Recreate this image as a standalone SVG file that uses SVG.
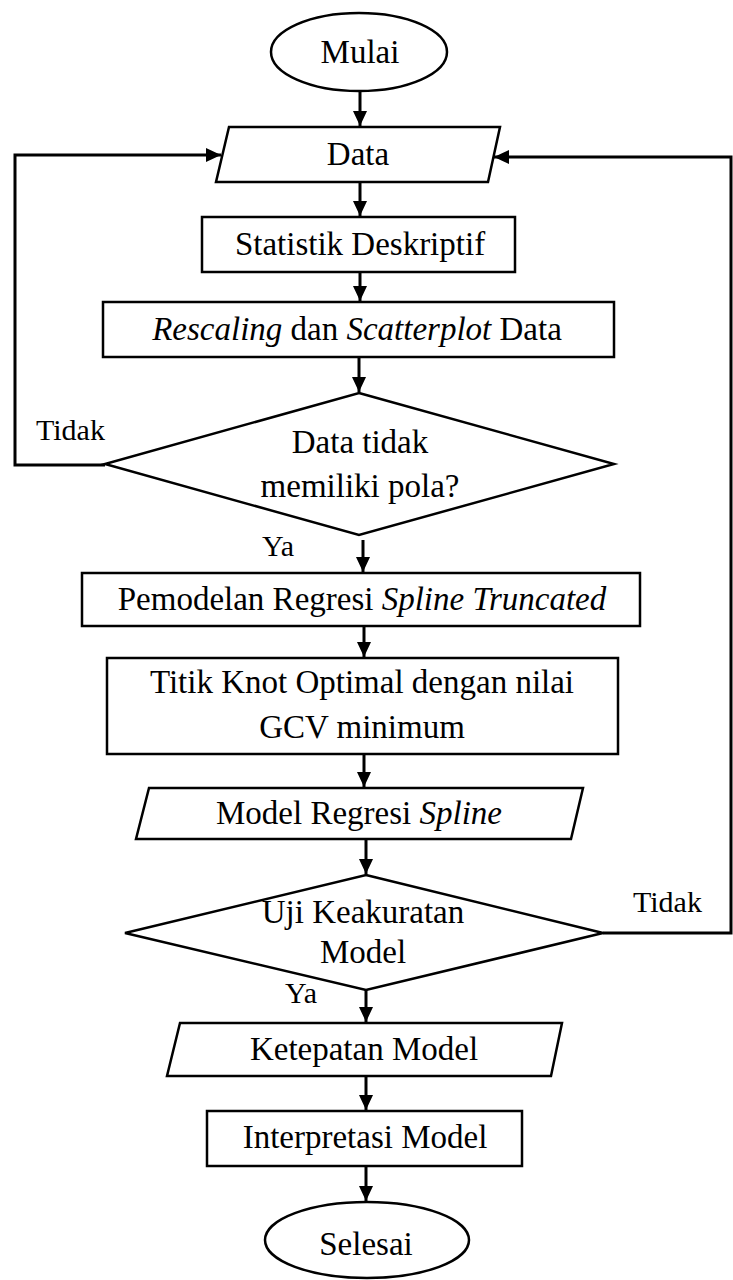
<svg xmlns="http://www.w3.org/2000/svg" width="733" height="1280" viewBox="0 0 733 1280">
<style>
.s{fill:#fff;stroke:#000;stroke-width:2.5}
.t{font-family:"Liberation Serif","Times New Roman",serif;font-size:33px;fill:#000;text-anchor:middle}
.l{font-family:"Liberation Serif","Times New Roman",serif;font-size:30px;fill:#000}
.c{fill:none;stroke:#000;stroke-width:3}
.i{font-style:italic}
</style>
<defs>
<marker id="ah" markerUnits="userSpaceOnUse" markerWidth="16" markerHeight="14" refX="15" refY="7" orient="auto">
<path d="M0,0 L15,7 L0,14 Z" fill="#000"/>
</marker>
</defs>
<rect width="733" height="1280" fill="#fff"/>
<g id="connectors">
<line class="c" x1="360" y1="91" x2="360" y2="126" marker-end="url(#ah)"/>
<line class="c" x1="360" y1="182" x2="360" y2="216" marker-end="url(#ah)"/>
<line class="c" x1="360" y1="272" x2="360" y2="301" marker-end="url(#ah)"/>
<line class="c" x1="359" y1="357" x2="359" y2="392" marker-end="url(#ah)"/>
<line class="c" x1="363" y1="540" x2="363" y2="572" marker-end="url(#ah)"/>
<line class="c" x1="364" y1="626" x2="364" y2="657" marker-end="url(#ah)"/>
<line class="c" x1="364" y1="754" x2="364" y2="787" marker-end="url(#ah)"/>
<line class="c" x1="366" y1="839" x2="366" y2="874" marker-end="url(#ah)"/>
<line class="c" x1="366" y1="990" x2="366" y2="1022" marker-end="url(#ah)"/>
<line class="c" x1="366" y1="1076" x2="366" y2="1110" marker-end="url(#ah)"/>
<line class="c" x1="366" y1="1166" x2="366" y2="1201" marker-end="url(#ah)"/>
<polyline class="c" points="105,465 15,465 15,155 221,155" marker-end="url(#ah)"/>
<polyline class="c" points="603,933 731,933 731,157 494,157" marker-end="url(#ah)"/>
<text class="l" x="36" y="440">Tidak</text>
<text class="l" x="262" y="556">Ya</text>
<text class="l" x="633" y="912">Tidak</text>
<text class="l" x="285" y="1003">Ya</text>
</g>
<g id="mulai">
<ellipse class="s" cx="359" cy="52" rx="88" ry="39"/>
<text class="t" x="360" y="63">Mulai</text>
</g>
<g id="data">
<polygon class="s" points="229,127 500,127 488,182 216,182"/>
<text class="t" x="358" y="165">Data</text>
</g>
<g id="statistik">
<rect class="s" x="202" y="217" width="313" height="55"/>
<text class="t" x="360" y="255">Statistik Deskriptif</text>
</g>
<g id="rescaling">
<rect class="s" x="103" y="302" width="511" height="55"/>
<text class="t" x="357" y="340"><tspan class="i">Rescaling</tspan> dan <tspan class="i">Scatterplot</tspan> Data</text>
</g>
<g id="decision1">
<polygon class="s" points="359,393 614,464 359,535 105,464"/>
<text class="t" x="360" y="453">Data tidak</text>
<text class="t" x="360" y="497">memiliki pola?</text>
</g>
<g id="pemodelan">
<rect class="s" x="82" y="573" width="558" height="53"/>
<text class="t" x="362" y="610">Pemodelan Regresi <tspan class="i">Spline Truncated</tspan></text>
</g>
<g id="titik">
<rect class="s" x="107" y="658" width="511" height="96"/>
<text class="t" x="362" y="693">Titik  Knot Optimal dengan nilai</text>
<text class="t" x="362" y="738">GCV minimum</text>
</g>
<g id="model">
<polygon class="s" points="149,788 583,788 571,839 136,839"/>
<text class="t" x="359" y="824">Model Regresi <tspan class="i">Spline</tspan></text>
</g>
<g id="decision2">
<polygon class="s" points="366,875 603,933 366,990 125,933"/>
<text class="t" x="363" y="923">Uji Keakuratan</text>
<text class="t" x="363" y="963">Model</text>
</g>
<g id="ketepatan">
<polygon class="s" points="180,1023 562,1023 551,1076 167,1076"/>
<text class="t" x="364" y="1060">Ketepatan Model</text>
</g>
<g id="interpretasi">
<rect class="s" x="207" y="1111" width="315" height="55"/>
<text class="t" x="365" y="1148">Interpretasi Model</text>
</g>
<g id="selesai">
<ellipse class="s" cx="367" cy="1240" rx="102" ry="38"/>
<text class="t" x="366" y="1255">Selesai</text>
</g>
</svg>
